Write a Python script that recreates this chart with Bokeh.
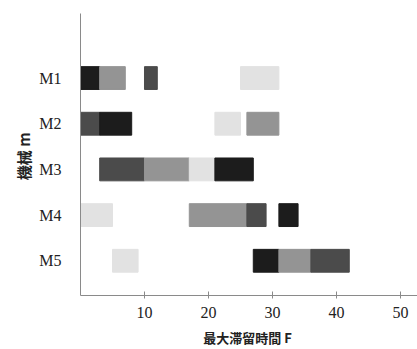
from bokeh.plotting import figure
from bokeh.models import Range1d, FixedTicker, ColumnDataSource
from bokeh.embed import file_html
from bokeh.resources import INLINE

machines = ["M1", "M2", "M3", "M4", "M5"]
machine_idx = [1, 1, 1, 1, 2, 2, 2, 2, 3, 3, 3, 3, 4, 4, 4, 4, 5, 5, 5, 5]
start = [0, 3, 10, 25, 0, 3, 21, 26, 3, 10, 17, 21, 0, 17, 26, 31, 5, 27, 31, 36]
end = [3, 7, 12, 31, 3, 8, 25, 31, 10, 17, 21, 27, 5, 26, 29, 34, 9, 31, 36, 42]
job = ["J1", "J3", "J2", "J4", "J2", "J1", "J4", "J3", "J2", "J3", "J4", "J1",
       "J4", "J3", "J2", "J1", "J4", "J1", "J3", "J2"]
job_colors = {"J1": "#1c1c1c", "J2": "#4b4b4b", "J3": "#949494", "J4": "#e2e2e2"}
x_ticks = [10, 20, 30, 40, 50]
x_title = "最大滞留時間  F"
y_title = "機械  m"

src = ColumnDataSource(dict(
    y=machine_idx, left=start, right=end,
    color=[job_colors[j] for j in job],
))

p = figure(width=417, height=349, output_backend="svg", toolbar_location=None,
           x_range=Range1d(0, 52.66), y_range=Range1d(5.76, -0.413),
           min_border_left=80, min_border_right=0, min_border_top=13, min_border_bottom=52)
p.hbar(y="y", left="left", right="right", height=0.5, fill_color="color",
       line_color="color", source=src)

p.outline_line_color = None
p.grid.grid_line_color = None

p.xaxis.ticker = FixedTicker(ticks=x_ticks)
p.xaxis.minor_tick_line_color = None
p.xaxis.major_tick_in = 4
p.xaxis.major_tick_out = 3
p.xaxis.axis_line_color = "#8a8a8a"
p.xaxis.major_tick_line_color = "#8a8a8a"
p.xaxis.major_label_text_font = "Liberation Serif"
p.xaxis.major_label_text_font_size = "16px"
p.xaxis.major_label_text_color = "#222222"
p.xaxis.major_label_standoff = 8
p.xaxis.axis_label = x_title
p.xaxis.axis_label_text_font = "Noto Sans CJK JP"
p.xaxis.axis_label_text_font_style = "bold"
p.xaxis.axis_label_text_font_size = "13px"
p.xaxis.axis_label_text_color = "#222222"
p.xaxis.axis_label_standoff = 7

p.yaxis.ticker = FixedTicker(ticks=[1, 2, 3, 4, 5])
p.yaxis.major_label_overrides = {i + 1: m for i, m in enumerate(machines)}
p.yaxis.minor_tick_line_color = None
p.yaxis.major_tick_line_color = None
p.yaxis.axis_line_color = "#8a8a8a"
p.yaxis.major_label_text_font = "Liberation Serif"
p.yaxis.major_label_text_font_size = "16px"
p.yaxis.major_label_text_color = "#222222"
p.yaxis.major_label_standoff = 13
p.yaxis.axis_label = y_title
p.yaxis.axis_label_text_font = "Noto Sans CJK JP"
p.yaxis.axis_label_text_font_style = "bold"
p.yaxis.axis_label_text_font_size = "15px"
p.yaxis.axis_label_text_color = "#222222"
p.yaxis.axis_label_standoff = 2

open("out.html", "w").write(file_html(p, INLINE))
